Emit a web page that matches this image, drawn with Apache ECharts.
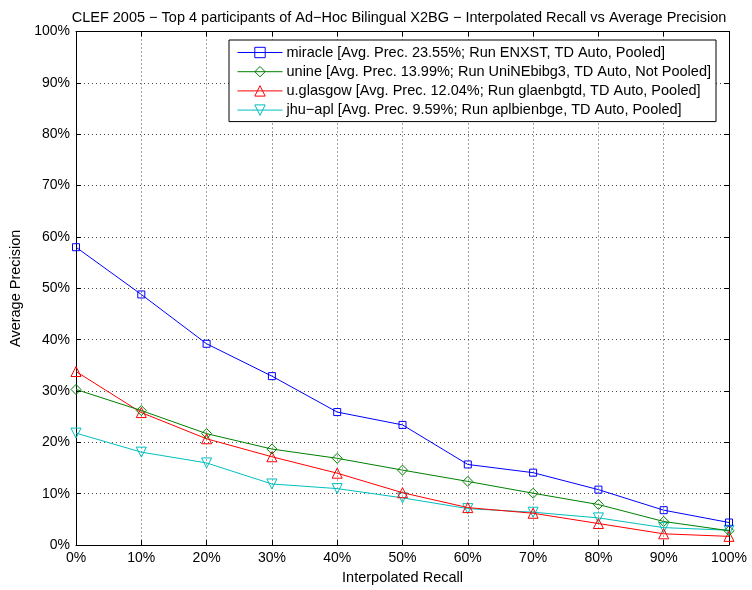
<!DOCTYPE html>
<html>
<head>
<meta charset="utf-8">
<script src="https://cdn.jsdelivr.net/npm/echarts@6/dist/echarts.min.js"></script>
<style>
html,body{margin:0;padding:0;background:#fff;}
#chart{width:752px;height:590px;}
</style>
</head>
<body>
<div id="chart"></div>
<script>
const recall = [0, 10, 20, 30, 40, 50, 60, 70, 80, 90, 100];
const miracle = [58.0, 48.8, 39.2, 32.9, 25.9, 23.4, 15.7, 14.1, 10.8, 6.8, 4.4];
const unine = [30.3, 26.2, 21.7, 18.7, 16.9, 14.6, 12.4, 10.1, 7.9, 4.6, 2.8];
const glasgow = [33.8, 25.8, 20.7, 17.2, 14.0, 10.2, 7.3, 6.2, 4.2, 2.2, 1.7];
const jhuapl = [21.8, 18.1, 16.0, 11.9, 11.0, 9.2, 7.1, 6.4, 5.3, 3.4, 2.9];
const seriesNames = [
  'miracle [Avg. Prec. 23.55%; Run ENXST, TD Auto, Pooled]',
  'unine [Avg. Prec. 13.99%; Run UniNEbibg3, TD Auto, Not Pooled]',
  'u.glasgow [Avg. Prec. 12.04%; Run glaenbgtd, TD Auto, Pooled]',
  'jhu\u2212apl [Avg. Prec. 9.59%; Run aplbienbge, TD Auto, Pooled]'
];
const titleText = 'CLEF 2005 \u2212 Top 4 participants of Ad\u2212Hoc Bilingual X2BG \u2212 Interpolated Recall vs Average Precision';

const FONT = 'Liberation Sans, Arial, Helvetica, sans-serif';
const allValues = [miracle, unine, glasgow, jhuapl];
const colors = ['#0000ff', '#008000', '#ff0000', '#00bfbf'];
const symbols = ['rect', 'diamond', 'triangle', 'triangle'];
const sizes = [7, 10, 10, 10];
const rotates = [0, 0, 0, 180];

const series = allValues.map((vals, i) => ({
  name: seriesNames[i],
  type: 'line',
  data: recall.map((r, j) => [r, vals[j]]),
  symbol: symbols[i],
  symbolSize: sizes[i],
  symbolRotate: rotates[i],
  showAllSymbol: true,
  lineStyle: {color: colors[i], width: 1},
  itemStyle: {color: 'rgba(255,255,255,0)', borderColor: colors[i], borderWidth: 1},
  emphasis: {disabled: true},
  animation: false,
  z: 10 - i
}));

const chart = echarts.init(document.getElementById('chart'), null, {renderer: 'canvas'});
const gridLine = {show: true, lineStyle: {color: '#444', width: 1, type: [1, 3]}};
chart.setOption({
  animation: false,
  backgroundColor: '#fff',
  title: {
    text: titleText,
    left: 394, top: 5, textAlign: 'center',
    textStyle: {fontFamily: FONT, fontSize: 14.5, fontWeight: 'normal', color: '#000'}
  },
  grid: {left: 76, right: 23, top: 31.5, bottom: 42.5, containLabel: false},
  legend: {
    orient: 'vertical',
    left: 229, top: 40,
    padding: [5, 5, 4, 8],
    itemWidth: 45, itemHeight: 13, itemGap: 4.2,
    backgroundColor: '#fff',
    borderColor: '#000', borderWidth: 1, borderRadius: 0,
    lineStyle: {width: 1},
    itemStyle: {borderWidth: 1},
    textStyle: {fontFamily: FONT, fontSize: 14.5, color: '#000', lineHeight: 14, padding: [0, 0, 0, -1]},
    data: seriesNames,
    selectedMode: false
  },
  xAxis: [{
    type: 'value', min: 0, max: 100, interval: 10,
    name: 'Interpolated Recall', nameLocation: 'middle', nameGap: 23,
    nameTextStyle: {fontFamily: FONT, fontSize: 14.5, color: '#000'},
    axisLine: {show: true, onZero: false, lineStyle: {color: '#000', width: 1}},
    axisTick: {show: true, inside: true, length: 5, lineStyle: {color: '#000'}},
    axisLabel: {formatter: '{value}%', fontFamily: FONT, fontSize: 14, color: '#000', margin: 6},
    splitLine: gridLine
  }, {
    type: 'value', min: 0, max: 100, interval: 10, position: 'top',
    axisLine: {show: true, onZero: false, lineStyle: {color: '#000', width: 1}},
    axisTick: {show: true, inside: true, length: 5, lineStyle: {color: '#000'}},
    axisLabel: {show: false}, splitLine: {show: false}
  }],
  yAxis: [{
    type: 'value', min: 0, max: 100, interval: 10,
    name: 'Average Precision', nameLocation: 'middle', nameGap: 50, nameRotate: 90,
    nameTextStyle: {fontFamily: FONT, fontSize: 14.5, color: '#000'},
    axisLine: {show: true, onZero: false, lineStyle: {color: '#000', width: 1}},
    axisTick: {show: true, inside: true, length: 5, lineStyle: {color: '#000'}},
    axisLabel: {formatter: '{value}%', fontFamily: FONT, fontSize: 14, color: '#000', margin: 6},
    splitLine: gridLine
  }, {
    type: 'value', min: 0, max: 100, interval: 10, position: 'right',
    axisLine: {show: true, onZero: false, lineStyle: {color: '#000', width: 1}},
    axisTick: {show: true, inside: true, length: 5, lineStyle: {color: '#000'}},
    axisLabel: {show: false}, splitLine: {show: false}
  }],
  series: series
});
</script>
</body>
</html>
